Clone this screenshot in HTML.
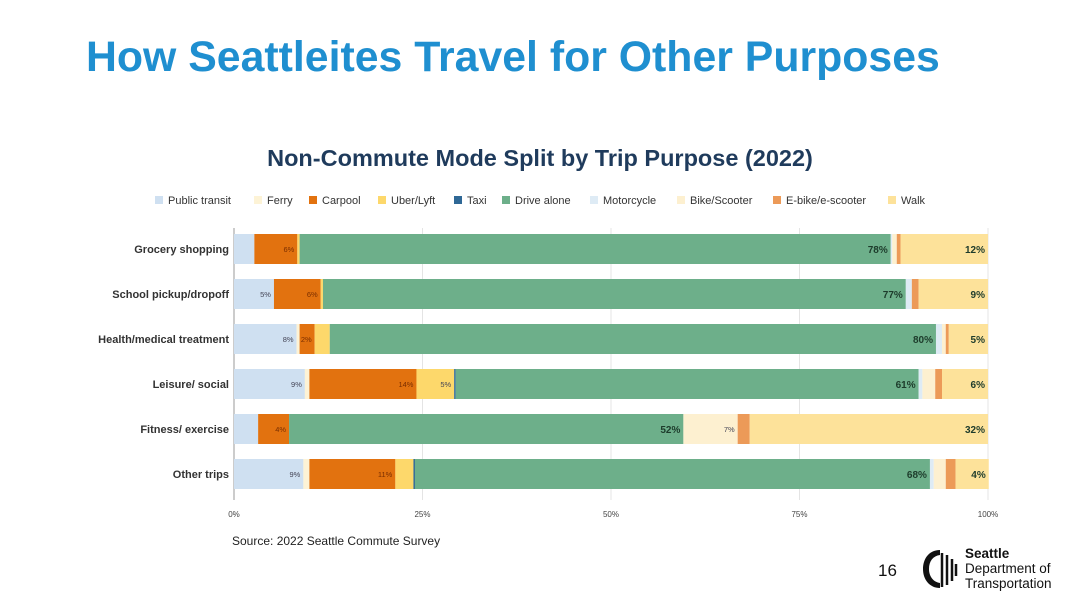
<!DOCTYPE html>
<html><head><meta charset="utf-8"><style>
body{margin:0;width:1080px;height:608px;background:#fff;font-family:"Liberation Sans",sans-serif;overflow:hidden;position:relative}
.abs{position:absolute}
</style></head><body>
<div class="abs" style="left:86px;top:33px;font-size:42.8px;font-weight:bold;color:#1f8fd0;white-space:nowrap">How Seattleites Travel for Other Purposes</div>
<div class="abs" style="left:0;width:1080px;text-align:center;top:145px;font-size:23.5px;font-weight:bold;color:#1f3b5c;white-space:nowrap">Non-Commute Mode Split by Trip Purpose (2022)</div>
<svg class="abs" style="left:0;top:0" width="1080" height="608" id="chart"></svg>
<div class="abs" style="left:232px;top:534px;font-size:12px;color:#222">Source: 2022 Seattle Commute Survey</div>
<div class="abs" style="left:878px;top:561px;font-size:17px;color:#111">16</div>
<svg class="abs" style="left:920px;top:547px" width="40" height="44">
<path d="M20 3 C8 3 3 13 3 22 C3 33 10 41 20 41 L20 36 C13 35 9 29 9 22 C9 14 13 9 20 8Z" fill="#111"/>
<g stroke="#111" stroke-width="2.5"><line x1="22" y1="6" x2="22" y2="40"/><line x1="27" y1="8" x2="27" y2="38"/><line x1="32" y1="12" x2="32" y2="34"/><line x1="36" y1="17" x2="36" y2="29"/></g>
</svg>
<div class="abs" style="left:965px;top:546px;font-size:13.5px;line-height:15px;color:#111"><b>Seattle</b><br>Department of<br>Transportation</div>
<script>
const categories=["Grocery shopping","School pickup/dropoff","Health/medical treatment","Leisure/ social","Fitness/ exercise","Other trips"];
const modes=["Public transit","Ferry","Carpool","Uber/Lyft","Taxi","Drive alone","Motorcycle","Bike/Scooter","E-bike/e-scooter","Walk"];
const transit=[2.7,5.3,8.3,9.4,3.2,9.2];
const ferry=[0,0,0.4,0.6,0,0.8];
const carpool=[5.7,6.2,2,14.2,4.1,11.4];
const uber=[0.3,0.3,2,5,0,2.4];
const taxi=[0,0,0,0.2,0,0.2];
const drive=[78.4,77.3,80.4,61.4,52.3,68.3];
const moto=[0.2,0.8,0.8,0.5,0,0.5];
const bike=[0.6,0,0.5,1.7,7.2,1.6];
const ebike=[0.5,0.9,0.4,0.9,1.6,1.3];
const walk=[11.6,9.2,5.2,6.1,31.6,4.4];
const ticks=[0,25,50,75,100];
const series=[transit,ferry,carpool,uber,taxi,drive,moto,bike,ebike,walk];
const colors=["#cfe0f1","#fdf3d6","#e2720f","#fdd86b","#2f6896","#6daf8a","#deebf5","#fdf0d0","#ec9a58","#fde29a"];
const NS="http://www.w3.org/2000/svg";
const svg=document.getElementById('chart');
const x0=234,x1=988;
function xs(v){return x0+(x1-x0)*v/100;}
function yc(i){return 249+45*i;}
function mk(t,a){const e=document.createElementNS(NS,t);for(const k in a)e.setAttribute(k,a[k]);svg.appendChild(e);return e;}
ticks.forEach(t=>{
 const g=mk('line',{x1:xs(t),x2:xs(t),y1:228,y2:500,stroke:t===0?'#999':'#e4e4e4','stroke-width':1});
 
 
 const l=mk('text',{x:xs(t),y:517,'font-size':8,'text-anchor':'middle',fill:'#444'});
 l.textContent=t+'%';
 
 
});
const lx=[155,254,309,378,454,502,590,677,773,888];
modes.forEach((m,i)=>{
 const r=mk('rect',{x:lx[i],y:196,width:8,height:8,fill:colors[i]});
 
 
 const t=mk('text',{x:lx[i]+13,y:204,'font-size':11,fill:'#333'});
 t.textContent=m;
 
 
});
categories.forEach((c,i)=>{
 const t=mk('text',{x:229,y:yc(i)+4,'font-size':11,'font-weight':'bold','text-anchor':'end',fill:'#333'});
 t.textContent=c;
 
 
 let acc=0;
 series.forEach((s,j)=>{
  const v=s[i]||0; if(v<=0){return;}
  const r=mk('rect',{x:xs(acc),y:yc(i)-15,width:xs(acc+v)-xs(acc),height:30,fill:colors[j]});
  
  
  if(v>=4||(j===2&&v>=1.5)){
   const big=(j===5||j===9);
   const lt=mk('text',{x:xs(acc+v)-3,y:yc(i)+(big?4:3),'font-size':big?10:7.5,'font-weight':big?'bold':'normal','text-anchor':'end',fill:big?'#1d3b2b':(j===2?'#7a2e00':'#445')});
   lt.textContent=Math.round(v)+'%';
   
   
  }
  acc+=v;
 });
});
</script>
</body></html>
